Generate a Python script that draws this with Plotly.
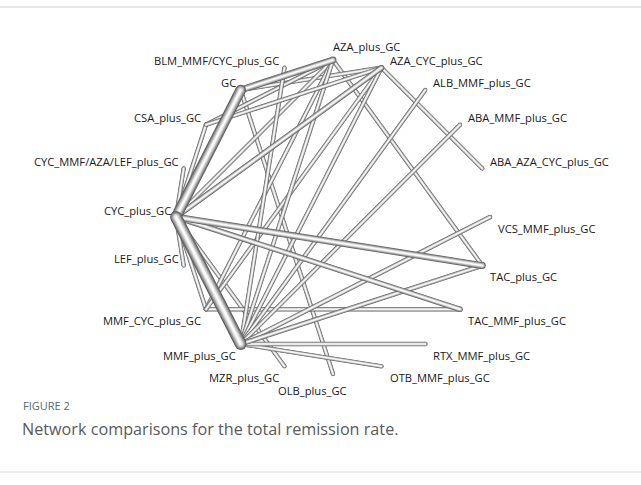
import math
import plotly.graph_objects as go

# ---------------- data ----------------
nodes = [
    "AZA_plus_GC", "AZA_CYC_plus_GC", "ALB_MMF_plus_GC", "ABA_MMF_plus_GC",
    "ABA_AZA_CYC_plus_GC", "VCS_MMF_plus_GC", "TAC_plus_GC", "TAC_MMF_plus_GC",
    "RTX_MMF_plus_GC", "OTB_MMF_plus_GC", "OLB_plus_GC", "MZR_plus_GC",
    "MMF_plus_GC", "MMF_CYC_plus_GC", "LEF_plus_GC", "CYC_plus_GC",
    "CYC_MMF/AZA/LEF_plus_GC", "CSA_plus_GC", "GC", "BLM_MMF/CYC_plus_GC",
]

edge_from = [
    "AZA_CYC_plus_GC", "AZA_plus_GC", "GC", "GC", "CSA_plus_GC", "CSA_plus_GC",
    "CYC_plus_GC", "CYC_MMF/AZA/LEF_plus_GC", "LEF_plus_GC", "CYC_plus_GC",
    "CYC_plus_GC", "MMF_CYC_plus_GC", "AZA_plus_GC", "AZA_CYC_plus_GC",
    "BLM_MMF/CYC_plus_GC", "AZA_plus_GC", "AZA_CYC_plus_GC", "ALB_MMF_plus_GC",
    "ABA_MMF_plus_GC", "MMF_plus_GC", "MMF_plus_GC", "MMF_plus_GC",
    "MMF_plus_GC", "CYC_plus_GC", "CYC_plus_GC",
    "CYC_plus_GC", "GC", "GC", "CYC_plus_GC", "CSA_plus_GC",
]
edge_to = [
    "ABA_AZA_CYC_plus_GC", "TAC_plus_GC", "AZA_CYC_plus_GC", "OLB_plus_GC", "AZA_plus_GC", "CYC_plus_GC",
    "MMF_CYC_plus_GC", "CYC_plus_GC", "CYC_plus_GC", "MZR_plus_GC",
    "AZA_plus_GC", "TAC_MMF_plus_GC", "MMF_CYC_plus_GC", "MMF_CYC_plus_GC",
    "MMF_plus_GC", "MMF_plus_GC", "MMF_plus_GC", "MMF_plus_GC",
    "MMF_plus_GC", "OTB_MMF_plus_GC", "RTX_MMF_plus_GC", "VCS_MMF_plus_GC",
    "TAC_plus_GC", "AZA_CYC_plus_GC", "TAC_MMF_plus_GC",
    "TAC_plus_GC", "AZA_plus_GC", "CYC_plus_GC", "MMF_plus_GC", "AZA_CYC_plus_GC",
]
# number of studies per comparison (drives line thickness)
edge_studies = [
    1, 1, 1, 1, 1, 1,
    1, 1, 1, 1,
    1, 1, 1, 1,
    1, 1, 1, 1,
    1, 1, 1.3, 1.3,
    1.5, 2, 2,
    3, 3, 6, 7, 1,
]

# ---------------- layout helpers ----------------
W, H = 641, 485
CX, CY, R = 333, 217, 157
n = len(nodes)
pos = {}
ang = {}
for i, name in enumerate(nodes):
    a = math.radians(90 - i * 360 / n)
    ang[name] = a
    pos[name] = (CX + R * math.cos(a), CY - R * math.sin(a))

fig = go.Figure()

layers = [(1.0, "#5c5c5c"), (0.82, "#878787"), (0.64, "#b0b0b0"), (0.45, "#d6d6d6"),
          (0.25, "#f3f3f3"), (0.1, "#ffffff")]

order = sorted(range(len(edge_from)), key=lambda k: edge_studies[k])
for k in order:
    s = edge_studies[k]
    a, b = edge_from[k], edge_to[k]
    w = 4.3 + 1.25 * (s - 1)
    x0, y0 = pos[a]
    x1, y1 = pos[b]
    for frac, col in layers:
        lw = max(w * frac, 0.5)
        fig.add_trace(go.Scatter(
            x=[x0, x1], y=[y0, y1], mode="lines+markers",
            line=dict(color=col, width=lw),
            marker=dict(size=lw, color=col, line=dict(width=0)),
            hoverinfo="skip", showlegend=False,
        ))

# labels
for name in nodes:
    x, y = pos[name]
    a = ang[name]
    c, s = math.cos(a), math.sin(a)
    if abs(c) < 0.05:
        if s > 0:
            xa, xs, ys = "left", -2, 14
        else:
            xa, xs, ys = "right", 16, -16
    else:
        if c > 0:
            xa, xs = "left", 6
        else:
            xa, xs = "right", -3
        ys = 7 if (s > 0.05 or c < -0.95) else -11
    fig.add_annotation(x=x, y=y, text=name, showarrow=False, xanchor=xa, yanchor="middle",
                       xshift=xs, yshift=ys,
                       font=dict(family="Open Sans", size=11.2, color="#1a1a1a"))

fig.add_annotation(x=21, y=405, xref="x", yref="y", text="FIGURE 2", showarrow=False,
                   xanchor="left", yanchor="middle",
                   font=dict(family="Open Sans", size=11, color="#4f6a73"))
fig.add_annotation(x=20, y=429, xref="x", yref="y",
                   text="Network comparisons for the total remission rate.", showarrow=False,
                   xanchor="left", yanchor="middle",
                   font=dict(family="Open Sans", size=16.2, color="#5a5a5a"))

fig.add_shape(type="line", x0=0, x1=641, y0=7, y1=7, xref="x", yref="y",
              line=dict(color="#d0d0d0", width=1.2))
fig.add_shape(type="line", x0=0, x1=641, y0=472, y1=472, xref="x", yref="y",
              line=dict(color="#d8d8d8", width=1.2))

fig.update_layout(
    width=W, height=H, margin=dict(l=0, r=0, t=0, b=0),
    paper_bgcolor="white", plot_bgcolor="white",
    xaxis=dict(range=[0, W], visible=False, fixedrange=True),
    yaxis=dict(range=[H, 0], visible=False, fixedrange=True),
)
fig.write_html("out.html")
